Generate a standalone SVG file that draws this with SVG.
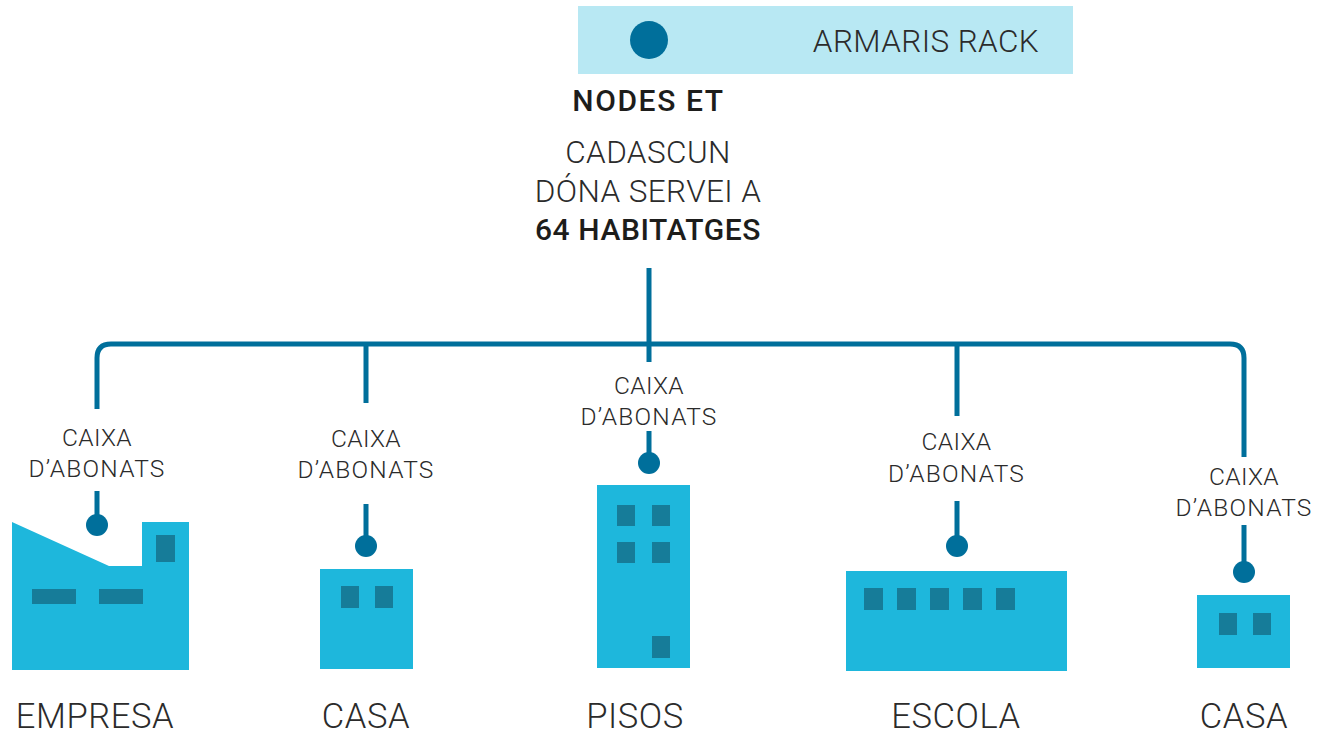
<svg xmlns="http://www.w3.org/2000/svg" width="1328" height="731" viewBox="0 0 1328 731">
<style>
text{font-family:Roboto,"Liberation Sans",sans-serif;font-weight:300;fill:#2b2b2b;text-anchor:middle}
.b{font-weight:500;font-size:30px;fill:#1d1d1b;letter-spacing:.6px}
.n{letter-spacing:1.6px}
.m{font-size:31.5px;letter-spacing:.4px}
.s{font-size:24.5px;letter-spacing:.3px}
.a{letter-spacing:1.2px}
.l{font-size:34.5px;letter-spacing:.6px}
.c{fill:none;stroke:#006f9b;stroke-width:5}
.d{fill:#006f9b}
.h{fill:#1eb7dc}
.w{fill:#167c99}
</style>
<g id="rack"><rect x="578" y="6" width="495" height="68" fill="#b8e8f3"/><circle class="d" cx="649" cy="40" r="19"/><text x="926" y="51.500" class="m">ARMARIS RACK</text></g>
<g id="title"><text x="648.500" y="110.500" class="b n">NODES ET</text><text x="648" y="163" class="m">CADASCUN</text><text x="648" y="202" class="m">DÓNA SERVEI A</text><text x="648" y="240" class="b">64 HABITATGES</text></g>
<g id="connectors">
<path class="c" d="M649 268V362M97 409V358Q97 344 111 344H1230Q1244 344 1244 358V457M366 344V403M957 344V416"/>
<path class="c" d="M97 491V525M366 504V546M649 431V463M957 501V546M1244 525V572"/>
</g>
<g id="empresa"><path class="h" d="M12 522L109 566H142V522H189V670H12Z"/><rect class="w" x="156" y="535" width="19" height="27"/><rect class="w" x="32" y="589" width="44" height="15"/><rect class="w" x="99" y="589" width="44" height="15"/><circle class="d" cx="97" cy="525" r="11"/><text x="97" y="445.500" class="s">CAIXA</text><text x="97" y="477" class="s a">D’ABONATS</text><text x="95" y="728" class="l">EMPRESA</text></g>
<g id="casa1"><rect class="h" x="320" y="569" width="93" height="100"/><rect class="w" x="341" y="586" width="18" height="22"/><rect class="w" x="375" y="586" width="18" height="22"/><circle class="d" cx="366" cy="546" r="11"/><text x="366" y="446.500" class="s">CAIXA</text><text x="366" y="478" class="s a">D’ABONATS</text><text x="366" y="728" class="l">CASA</text></g>
<g id="pisos"><rect class="h" x="597" y="485" width="93" height="183"/><rect class="w" x="617" y="505" width="18" height="21"/><rect class="w" x="652" y="505" width="18" height="21"/><rect class="w" x="617" y="542" width="18" height="21"/><rect class="w" x="652" y="542" width="18" height="21"/><rect class="w" x="652" y="636" width="18" height="22"/><circle class="d" cx="649" cy="463" r="11"/><text x="649" y="393.500" class="s">CAIXA</text><text x="649" y="425" class="s a">D’ABONATS</text><text x="635" y="728" class="l">PISOS</text></g>
<g id="escola"><rect class="h" x="846" y="571" width="221" height="100"/><rect class="w" x="864" y="588" width="19" height="22"/><rect class="w" x="897" y="588" width="19" height="22"/><rect class="w" x="930" y="588" width="19" height="22"/><rect class="w" x="963" y="588" width="19" height="22"/><rect class="w" x="996" y="588" width="19" height="22"/><circle class="d" cx="957" cy="546" r="11"/><text x="956.500" y="450" class="s">CAIXA</text><text x="956.500" y="482" class="s a">D’ABONATS</text><text x="956" y="728" class="l">ESCOLA</text></g>
<g id="casa2"><rect class="h" x="1197" y="595" width="93" height="73"/><rect class="w" x="1219" y="613" width="18" height="22"/><rect class="w" x="1253" y="613" width="18" height="22"/><circle class="d" cx="1244" cy="572" r="11"/><text x="1244" y="484.500" class="s">CAIXA</text><text x="1244" y="516" class="s a">D’ABONATS</text><text x="1244" y="728" class="l">CASA</text></g>
</svg>
